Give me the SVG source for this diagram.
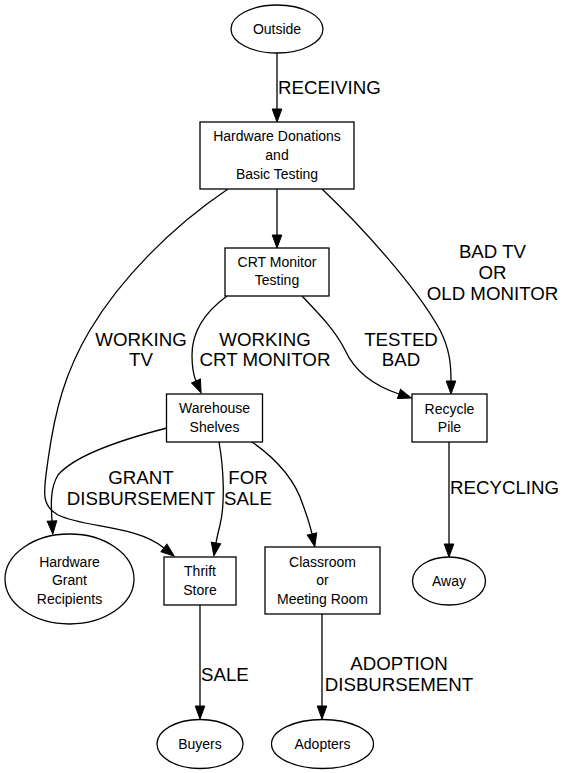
<svg xmlns="http://www.w3.org/2000/svg" width="567" height="773" viewBox="0 0 567 773">
<style>
.n{fill:#fff;stroke:#000;stroke-width:1.3}
.t{font-family:"Liberation Sans",Arial,sans-serif;font-size:14px;text-anchor:middle;fill:#000}
.e{fill:none;stroke:#000;stroke-width:1.3;marker-end:url(#ah)}
.l{font-family:"Liberation Sans",Arial,sans-serif;font-size:18.7px;fill:#000}
.c{text-anchor:middle}
</style>
<defs>
<marker id="ah" markerUnits="userSpaceOnUse" markerWidth="16" markerHeight="12" refX="0" refY="0" viewBox="0 -6 14 12" orient="auto" overflow="visible">
<path d="M0,-4.8 L13,0 L0,4.8 z" fill="#000" stroke="#000" stroke-width="1"/>
</marker>
</defs>
<rect width="567" height="773" fill="#fff"/>
<g id="edges">
<path class="e" d="M277,53 L277,109"/>
<path class="e" d="M277,189 L277,235"/>
<path class="e" d="M228,189 C170,228 120,280 90,330 C65,372 55,410 48,460 C44,490 40,505 58,515 C85,528 135,525 164,548"/>
<path class="e" d="M322,189 C360,225 415,285 440,330 C450,350 451,365 451,381"/>
<path class="e" d="M227,296 C205,312 192,332 192,355 C192,366 193,374 196,381"/>
<path class="e" d="M302,296 C320,315 335,330 345,350 C355,372 375,386 399,394"/>
<path class="e" d="M167,428 C120,440 75,455 58,475 C50,488 51,505 52,521"/>
<path class="e" d="M219,442 C224,470 225,505 220,525 C218,533 217,537 216,543"/>
<path class="e" d="M252,442 C275,458 295,480 303,505 C307,516 310,525 312,534"/>
<path class="e" d="M449,442 L449,544"/>
<path class="e" d="M200,605 L200,706"/>
<path class="e" d="M322,614 L322,706"/>
<text class="l" x="278" y="94">RECEIVING</text>
<text class="l c" x="141" y="346">WORKING</text>
<text class="l c" x="141" y="366">TV</text>
<text class="l c" x="265" y="346">WORKING</text>
<text class="l c" x="265" y="366">CRT MONITOR</text>
<text class="l c" x="401" y="346">TESTED</text>
<text class="l c" x="401" y="366">BAD</text>
<text class="l c" x="492.5" y="258">BAD TV</text>
<text class="l c" x="492.5" y="279">OR</text>
<text class="l c" x="492.5" y="299.5">OLD MONITOR</text>
<text class="l c" x="141" y="483.5">GRANT</text>
<text class="l c" x="141" y="504.5">DISBURSEMENT</text>
<text class="l c" x="248" y="483.5">FOR</text>
<text class="l c" x="248" y="505">SALE</text>
<text class="l" x="450" y="494">RECYCLING</text>
<text class="l" x="201" y="681">SALE</text>
<text class="l c" x="399" y="670">ADOPTION</text>
<text class="l c" x="399" y="691">DISBURSEMENT</text>
</g>
<g id="outside"><ellipse class="n" cx="277" cy="29" rx="46" ry="24"/><text class="t" x="277" y="34">Outside</text></g>
<g id="hdbt"><rect class="n" x="200" y="122" width="154" height="67"/><text class="t" x="277" y="141">Hardware Donations</text><text class="t" x="277" y="160">and</text><text class="t" x="277" y="179">Basic Testing</text></g>
<g id="crt"><rect class="n" x="225" y="248" width="104" height="48"/><text class="t" x="277" y="267">CRT Monitor</text><text class="t" x="277" y="284.5">Testing</text></g>
<g id="warehouse"><rect class="n" x="166.5" y="394" width="96" height="48"/><text class="t" x="214.5" y="413">Warehouse</text><text class="t" x="214.5" y="432">Shelves</text></g>
<g id="recycle"><rect class="n" x="412" y="394" width="75" height="48"/><text class="t" x="449.5" y="414">Recycle</text><text class="t" x="449.5" y="432">Pile</text></g>
<g id="hgr"><ellipse class="n" cx="69.5" cy="579" rx="64.5" ry="45"/><text class="t" x="69.5" y="567">Hardware</text><text class="t" x="69.5" y="585">Grant</text><text class="t" x="69.5" y="604">Recipients</text></g>
<g id="thrift"><rect class="n" x="164" y="557" width="72" height="48"/><text class="t" x="200" y="576">Thrift</text><text class="t" x="200" y="595">Store</text></g>
<g id="classroom"><rect class="n" x="265" y="547" width="115" height="67"/><text class="t" x="322.5" y="567">Classroom</text><text class="t" x="322.5" y="585">or</text><text class="t" x="322.5" y="604">Meeting Room</text></g>
<g id="away"><ellipse class="n" cx="449" cy="581" rx="36.5" ry="24"/><text class="t" x="449" y="586">Away</text></g>
<g id="buyers"><ellipse class="n" cx="200" cy="744" rx="43" ry="24.5"/><text class="t" x="200" y="749">Buyers</text></g>
<g id="adopters"><ellipse class="n" cx="322.5" cy="744" rx="51" ry="24.5"/><text class="t" x="322.5" y="749">Adopters</text></g>
</svg>
